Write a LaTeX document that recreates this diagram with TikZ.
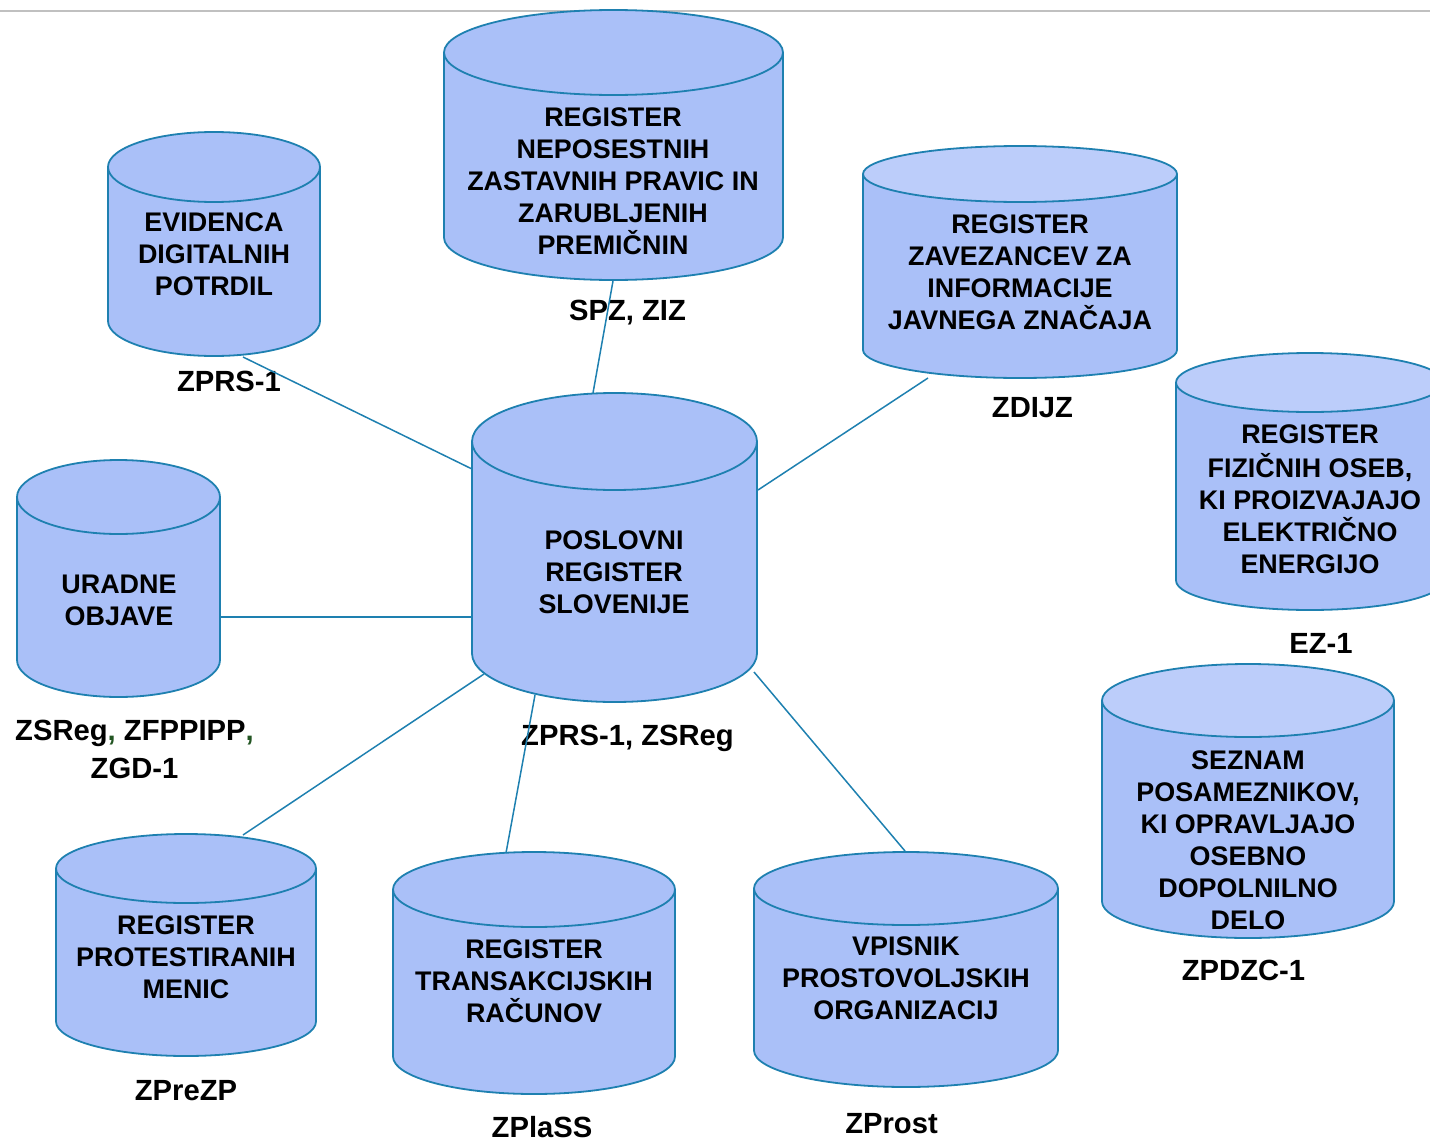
\documentclass[tikz,border=0pt]{standalone}
\usepackage{fontspec}
\setmainfont{Liberation Sans}
\definecolor{cylfillc}{RGB}{170,192,248}
\definecolor{cyltopl}{RGB}{188,205,250}
\definecolor{cylstroke}{RGB}{30,128,176}
\definecolor{commagreen}{RGB}{34,85,34}
\definecolor{toplinec}{RGB}{192,192,192}
\tikzset{
  cylline/.style={draw=cylstroke, line width=1.8pt},
  cyltext/.style={align=center, inner sep=0pt, font=\fontsize{26.9}{32}\selectfont\bfseries},
  lawlabel/.style={anchor=base, inner sep=0pt, font=\fontsize{29.2}{38}\selectfont\bfseries},
  link/.style={draw=cylstroke, line width=1.5pt},
}
% #1 cx, #2 rx, #3 y of top ellipse centre, #4 y of bottom ellipse centre, #5 ry, #6 top fill
\newcommand\mydrawcyl[6]{%
  \filldraw[fill=cylfillc, cylline] (#1,#4) ellipse [x radius=#2pt, y radius=#5pt];
  \fill[cylfillc] (#1-#2,#3) rectangle (#1+#2,#4);
  \draw[cylline] (#1-#2,#3) -- (#1-#2,#4) (#1+#2,#3) -- (#1+#2,#4);
  \filldraw[fill=#6, cylline] (#1,#3) ellipse [x radius=#2pt, y radius=#5pt];
}
\begin{document}
\begin{tikzpicture}[x=1pt,y=-1pt]
\useasboundingbox (0,0) rectangle (1430,1143);
\clip (0,0) rectangle (1430,1143);
\draw[toplinec, line width=2pt] (0,11) -- (1430,11);

% cylinders
\mydrawcyl{613.5}{169.5}{52.5}{237.5}{42.5}{cylfillc}
\mydrawcyl{214}{106}{167}{321}{35}{cylfillc}
\mydrawcyl{1020}{157}{174}{350}{28}{cyltopl}
\mydrawcyl{614.5}{142.5}{441.5}{653.5}{48.5}{cylfillc}
\mydrawcyl{1310}{134}{382.5}{580.5}{29.5}{cyltopl}
\mydrawcyl{118.5}{101.5}{497}{660}{37}{cylfillc}
\mydrawcyl{1248}{146}{700.5}{901.5}{36.5}{cyltopl}
\mydrawcyl{186}{130}{868.5}{1021.5}{34.5}{cylfillc}
\mydrawcyl{534}{141}{889.5}{1056.5}{37.5}{cylfillc}
\mydrawcyl{906}{152}{888.5}{1050.5}{36.5}{cylfillc}

% cylinder texts
\node[cyltext] (neposestnih) at (613,184) {\strut REGISTER\\NEPOSESTNIH\\ZASTAVNIH PRAVIC IN\\ZARUBLJENIH\\PREMIČNIN\strut};
\node[cyltext] (evidenca) at (214,257) {\strut EVIDENCA\\DIGITALNIH\\POTRDIL\strut};
\node[cyltext] (zavezancev) at (1020,275) {\strut REGISTER\\ZAVEZANCEV ZA\\INFORMACIJE\\JAVNEGA ZNAČAJA\strut};
\node[cyltext] (poslovni) at (614,575) {\strut POSLOVNI\\REGISTER\\SLOVENIJE\strut};
\node[cyltext] (fizicnih) at (1310,502) {\strut REGISTER\\FIZIČNIH OSEB,\\KI PROIZVAJAJO\\ELEKTRIČNO\\ENERGIJO\strut};
\node[cyltext] (uradne) at (119,603) {\strut URADNE\\OBJAVE\strut};
\node[cyltext] (seznam) at (1248,843) {\strut SEZNAM\\POSAMEZNIKOV,\\KI OPRAVLJAJO\\OSEBNO\\DOPOLNILNO\\DELO\strut};
\node[cyltext] (menic) at (186,960) {\strut REGISTER\\PROTESTIRANIH\\MENIC\strut};
\node[cyltext] (racunov) at (534,984) {\strut REGISTER\\TRANSAKCIJSKIH\\RAČUNOV\strut};
\node[cyltext] (vpisnik) at (906,981) {\strut VPISNIK\\PROSTOVOLJSKIH\\ORGANIZACIJ\strut};

% law labels
\node[lawlabel] (lspz) at (627.5,320) {SPZ, ZIZ};
\node[lawlabel] (lzprs) at (229,391) {ZPRS-1};
\node[lawlabel] (lzdijz) at (1032.5,417) {ZDIJZ};
\node[lawlabel] (lez) at (1321,653) {EZ-1};
\node[lawlabel, anchor=center, align=center] (lzsreg) at (134.5,751.4) {\strut ZSReg{\color{commagreen},} ZFPPIPP{\color{commagreen},}\\ZGD-1\strut};
\node[lawlabel] (lposl) at (627.5,745) {ZPRS-1, ZSReg};
\node[lawlabel] (lzpdzc) at (1243.5,980) {ZPDZC-1};
\node[lawlabel] (lzprezp) at (186,1100) {ZPreZP};
\node[lawlabel] (lzplass) at (542,1137) {ZPlaSS};
\node[lawlabel] (lzprost) at (891.5,1133) {ZProst};

% connector end points on the cylinder outlines
\coordinate (nep-b) at (613,281);
\coordinate (pr-t) at (593,393);
\coordinate (evi-b) at (243,357);
\coordinate (pr-l1) at (472,469);
\coordinate (zav-b) at (928,378);
\coordinate (pr-r1) at (758,490);
\coordinate (ura-r) at (220,617);
\coordinate (pr-l2) at (472,617);
\coordinate (pr-bl) at (484,674);
\coordinate (men-t) at (243,835);
\coordinate (pr-b) at (535,695);
\coordinate (rac-t) at (506,853);
\coordinate (pr-br) at (754,672);
\coordinate (vpi-t) at (905,851);

\draw[link] (nep-b) -- (pr-t);
\draw[link] (evi-b) -- (pr-l1);
\draw[link] (zav-b) -- (pr-r1);
\draw[link] (ura-r) -- (pr-l2);
\draw[link] (pr-bl) -- (men-t);
\draw[link] (pr-b) -- (rac-t);
\draw[link] (pr-br) -- (vpi-t);
\end{tikzpicture}
\end{document}
